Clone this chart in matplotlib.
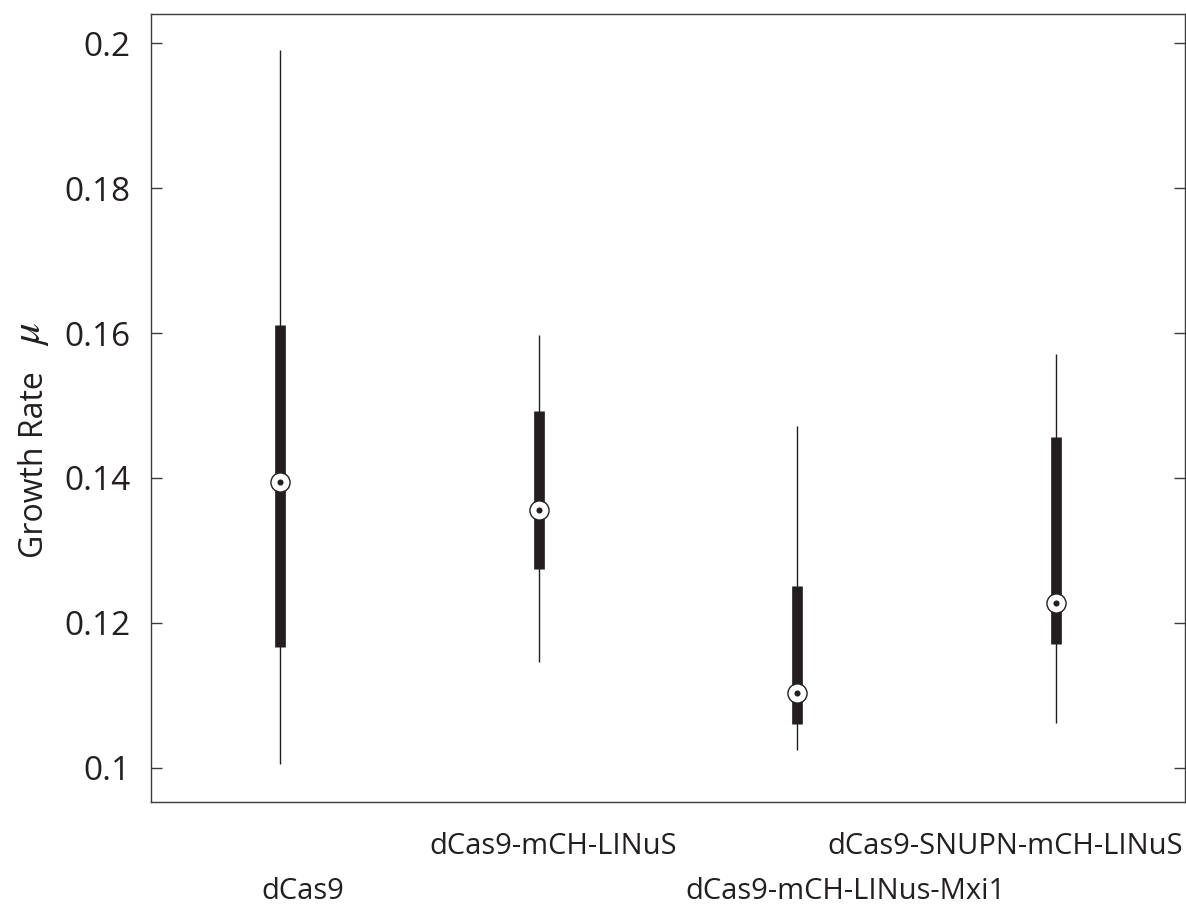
import matplotlib
matplotlib.use("Agg")
import matplotlib.pyplot as plt
import matplotlib.transforms as mtransforms

# ---- data ----
categories = ["dCas9", "dCas9-mCH-LINuS", "dCas9-mCH-LINus-Mxi1", "dCas9-SNUPN-mCH-LINuS"]
whisker_low = [0.1005, 0.1146, 0.1025, 0.1062]
q1 = [0.1166, 0.1274, 0.1061, 0.1171]
median = [0.1394, 0.1356, 0.1103, 0.1227]
q3 = [0.1611, 0.1493, 0.1251, 0.1456]
whisker_high = [0.1991, 0.1597, 0.1472, 0.1571]
y_ticks = [0.1, 0.12, 0.14, 0.16, 0.18, 0.2]
y_tick_labels = ["0.1", "0.12", "0.14", "0.16", "0.18", "0.2"]

# ---- layout / style ----
INK = "#231f20"
SPINE = "#3c3c3c"
FONT = "Open Sans"
label_x_offset = [0.086, 0.057, 0.186, -0.194]   # label centre shift (data units)
label_rows = [-0.1231, -0.0654, -0.1231, -0.0654]  # baseline, axes fraction

plt.rcParams["font.family"] = [FONT, "DejaVu Sans"]
plt.rcParams["mathtext.fontset"] = "stix"

W, H = 1186, 908
fig = plt.figure(figsize=(W / 100, H / 100), dpi=100)
ax = fig.add_axes([151 / W, 1 - 802 / H, 1034 / W, 788 / H])

positions = list(range(1, len(categories) + 1))

ax.vlines(positions, whisker_low, whisker_high, colors=INK, linewidth=1.0,
          capstyle="butt", zorder=2)
ax.vlines(positions, q1, q3, colors=INK, linewidth=7.7, capstyle="butt", zorder=3)
ax.plot(positions, median, linestyle="none", marker="o", markersize=13.8,
        markerfacecolor="white", markeredgecolor=INK, markeredgewidth=1.0, zorder=4)
ax.plot(positions, median, linestyle="none", marker="o", markersize=4.4,
        markerfacecolor=INK, markeredgecolor=INK, markeredgewidth=0, zorder=5)

ax.set_xlim(0.5, 4.5)
ax.set_ylim(0.09527, 0.20404)

ax.set_yticks(y_ticks)
ax.set_yticklabels(y_tick_labels)
ax.set_xticks([])
ax.tick_params(axis="y", direction="in", length=7.7, width=1.0, color=SPINE,
               left=True, right=True, labelsize=24, labelcolor=INK, pad=15)
for s in ax.spines.values():
    s.set_color(SPINE)
    s.set_linewidth(1.0)

trans = mtransforms.blended_transform_factory(ax.transData, ax.transAxes)
for p, name, dx, row in zip(positions, categories, label_x_offset, label_rows):
    ax.text(p + dx, row, name, transform=trans, ha="center", va="baseline",
            fontsize=21, color=INK, clip_on=False)

# y label: text plus a larger italic mu
fig.text(43 / W, 1 - 558 / H, "Growth Rate", rotation=90,
         rotation_mode="anchor", ha="left", va="baseline", fontsize=23,
         color=INK)
fig.text(40 / W, 1 - 346 / H, r"$\mu$", rotation=90,
         rotation_mode="anchor", ha="left", va="baseline", fontsize=31,
         color=INK)

fig.savefig("out.png", dpi=100, facecolor="white")
